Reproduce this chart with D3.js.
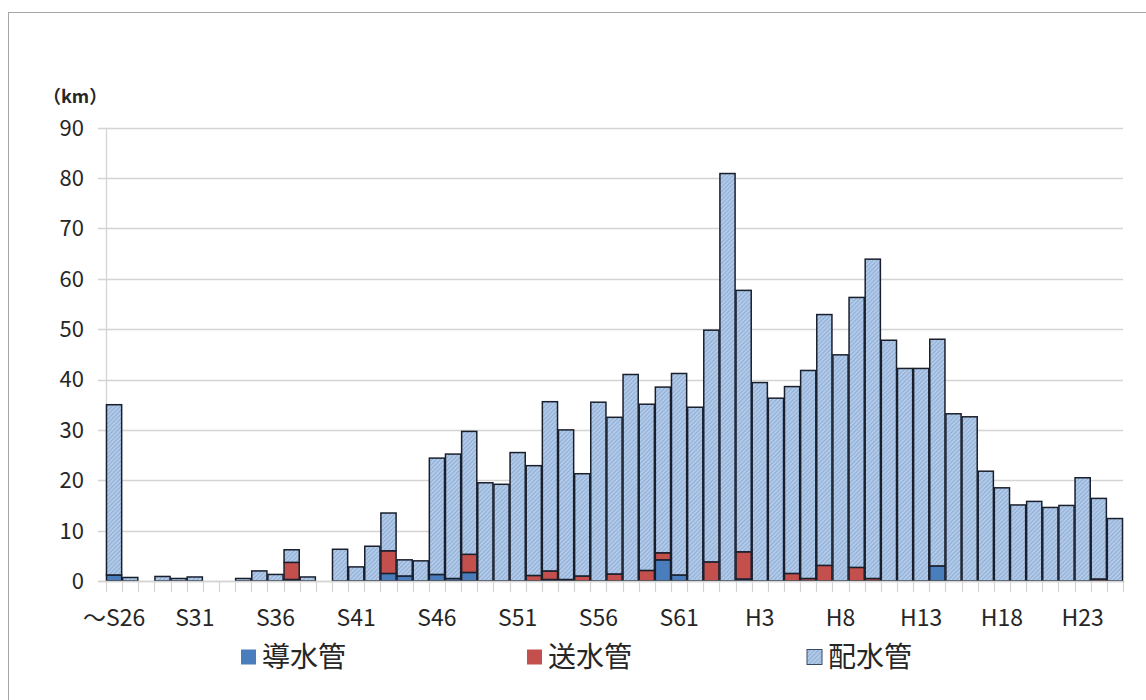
<!DOCTYPE html>
<html>
<head>
<meta charset="utf-8">
<script src="https://cdn.jsdelivr.net/npm/d3@7"></script>
<style>
  html, body { margin: 0; padding: 0; background: #fff; }
  svg { display: block; }
  text { font-family: "Noto Sans CJK JP", "Noto Sans", sans-serif; fill: #262626; }
</style>
</head>
<body>
<svg id="chart" width="1146" height="700"></svg>
<script>
// Fiscal years of installation (Showa S26 and earlier, through Heisei H25)
const categories = [
  "～S26","S27","S28","S29","S30","S31","S32","S33","S34","S35",
  "S36","S37","S38","S39","S40","S41","S42","S43","S44","S45",
  "S46","S47","S48","S49","S50","S51","S52","S53","S54","S55",
  "S56","S57","S58","S59","S60","S61","S62","S63","H1","H2",
  "H3","H4","H5","H6","H7","H8","H9","H10","H11","H12",
  "H13","H14","H15","H16","H17","H18","H19","H20","H21","H22",
  "H23","H24","H25"
];

// Length laid per year (km) — conduit pipes
const dounui = [
  1.2,0,0,0,0,0,0,0,0,0,
  0,0.3,0,0,0,0,0,1.5,1.0,0,
  1.3,0.5,1.7,0,0,0,0,0.3,0.3,0,
  0,0,0,0,4.2,1.2,0,0,0,0.4,
  0,0,0,0,0,0,0,0,0,0,
  0,3.0,0,0,0,0,0,0,0,0,
  0,0,0
];

// Transmission pipes
const sousui = [
  0,0,0,0,0,0,0,0,0,0,
  0,3.4,0,0,0,0,0,4.5,0,0,
  0,0,3.6,0,0,0,1.1,1.7,0,1.0,
  0,1.4,0,2.1,1.4,0,0,3.8,0,5.4,
  0,0,1.5,0.5,3.1,0,2.7,0.5,0,0,
  0,0,0,0,0,0,0,0,0,0,
  0,0.4,0
];

// Distribution pipes
const haisui = [
  33.8,0.7,0,0.9,0.5,0.8,0,0,0.5,2.0,
  1.3,2.5,0.8,0,6.3,2.8,6.9,7.5,3.2,4.0,
  23.1,24.7,24.4,19.5,19.2,25.5,21.8,33.6,29.7,20.3,
  35.5,31.1,41.0,33.0,32.9,40.0,34.5,46.0,80.9,51.9,
  39.4,36.3,37.1,41.3,49.8,44.9,53.6,63.4,47.8,42.2,
  42.2,45.0,33.2,32.6,21.8,18.5,15.1,15.8,14.6,15.0,
  20.5,16.0,12.4
];

const seriesNames = ["導水管", "送水管", "配水管"];
const yTicks = [0, 10, 20, 30, 40, 50, 60, 70, 80, 90];
const xTickLabels = ["～S26","S31","S36","S41","S46","S51","S56","S61","H3","H8","H13","H18","H23"];

const svg = d3.select("#chart");

// Outer frame
svg.append("rect")
  .attr("x", 8.5).attr("y", 12.5)
  .attr("width", 1160).attr("height", 720)
  .attr("fill", "none").attr("stroke", "#a6a6a6").attr("stroke-width", 1);

// Diagonal fill texture for the distribution-pipe bars
const defs = svg.append("defs");
const pat = defs.append("pattern")
  .attr("id", "hatch")
  .attr("patternUnits", "userSpaceOnUse")
  .attr("width", 3).attr("height", 3)
  .attr("patternTransform", "rotate(45)");
pat.append("rect").attr("width", 3).attr("height", 3).attr("fill", "#b2cae8");
pat.append("line").attr("x1", 0.5).attr("y1", 0).attr("x2", 0.5).attr("y2", 3)
  .attr("stroke", "#8eaed6").attr("stroke-width", 1);

const plot = { left: 106, right: 1123, top: 127.7, bottom: 581 };

const x = d3.scaleBand()
  .domain(categories)
  .range([plot.left, plot.right])
  .paddingInner(0.06)
  .paddingOuter(0.03);

const y = d3.scaleLinear()
  .domain([0, 90])
  .range([plot.bottom, plot.top]);

// Horizontal gridlines (extend slightly left of the axis like tick marks)
svg.append("g")
  .selectAll("line")
  .data(yTicks)
  .join("line")
  .attr("x1", plot.left - 8).attr("x2", plot.right)
  .attr("y1", d => Math.round(y(d)) + 0.5).attr("y2", d => Math.round(y(d)) + 0.5)
  .attr("stroke", "#d4d4d4").attr("stroke-width", 1.3);

// Vertical axis line
svg.append("line")
  .attr("x1", plot.left + 0.5).attr("x2", plot.left + 0.5)
  .attr("y1", plot.top).attr("y2", plot.bottom)
  .attr("stroke", "#d4d4d4").attr("stroke-width", 1.3);

// Y tick labels
svg.append("g")
  .selectAll("text")
  .data(yTicks)
  .join("text")
  .attr("x", 84).attr("y", d => y(d))
  .attr("dy", "0.36em")
  .attr("text-anchor", "end")
  .attr("font-size", 22)
  .text(d => d);

// Unit label
svg.append("text")
  .attr("x", 43).attr("y", 97)
  .attr("dy", "0.36em")
  .attr("font-size", 18)
  .attr("font-weight", "bold")
  .text("（km）");

// X tick marks at category boundaries
const boundaries = d3.range(categories.length + 1).map(i => plot.left + i * (plot.right - plot.left) / categories.length);
svg.append("g")
  .selectAll("line")
  .data(boundaries)
  .join("line")
  .attr("x1", d => Math.round(d) + 0.5).attr("x2", d => Math.round(d) + 0.5)
  .attr("y1", plot.bottom).attr("y2", plot.bottom + 11)
  .attr("stroke", "#d4d4d4").attr("stroke-width", 1.2);

// Stacked bars
const rows = categories.map((c, i) => ({
  cat: c,
  "導水管": dounui[i],
  "送水管": sousui[i],
  "配水管": haisui[i]
}));
const stack = d3.stack().keys(seriesNames);
const layers = stack(rows);
const fills = { "導水管": "#4a7dbb", "送水管": "#c4504d", "配水管": "url(#hatch)" };

svg.append("g")
  .selectAll("g")
  .data(layers)
  .join("g")
  .attr("fill", d => fills[d.key])
  .selectAll("rect")
  .data(d => d.filter(s => s[1] - s[0] > 0))
  .join("rect")
  .attr("x", s => x(s.data.cat))
  .attr("width", x.bandwidth())
  .attr("y", s => y(s[1]))
  .attr("height", s => y(s[0]) - y(s[1]))
  .attr("stroke", "#1a1f2c")
  .attr("stroke-width", 1.5);

// Baseline
svg.append("line")
  .attr("x1", plot.left - 8).attr("x2", plot.right)
  .attr("y1", plot.bottom + 0.5).attr("y2", plot.bottom + 0.5)
  .attr("stroke", "#d4d4d4").attr("stroke-width", 1.3);

// X tick labels every five years
svg.append("g")
  .selectAll("text")
  .data(xTickLabels)
  .join("text")
  .attr("x", d => x(d) + x.bandwidth() / 2)
  .attr("y", 618)
  .attr("dy", "0.36em")
  .attr("text-anchor", "middle")
  .attr("font-size", 23)
  .text(d => d);

// Legend
const legendItems = [
  { name: "導水管", fill: "#4a7dbb", x: 241 },
  { name: "送水管", fill: "#c4504d", x: 527 },
  { name: "配水管", fill: "url(#hatch)", x: 807 }
];
const lg = svg.append("g")
  .selectAll("g")
  .data(legendItems)
  .join("g")
  .attr("transform", d => `translate(${d.x},657)`);
lg.append("rect")
  .attr("x", 0).attr("y", -7.5)
  .attr("width", 15).attr("height", 15)
  .attr("fill", d => d.fill)
  .attr("stroke", d => d.name === "配水管" ? "#3a4a66" : "none")
  .attr("stroke-width", 1);
lg.append("text")
  .attr("x", 21).attr("y", 0)
  .attr("dy", "0.36em")
  .attr("font-size", 28)
  .text(d => d.name);
</script>
</body>
</html>
